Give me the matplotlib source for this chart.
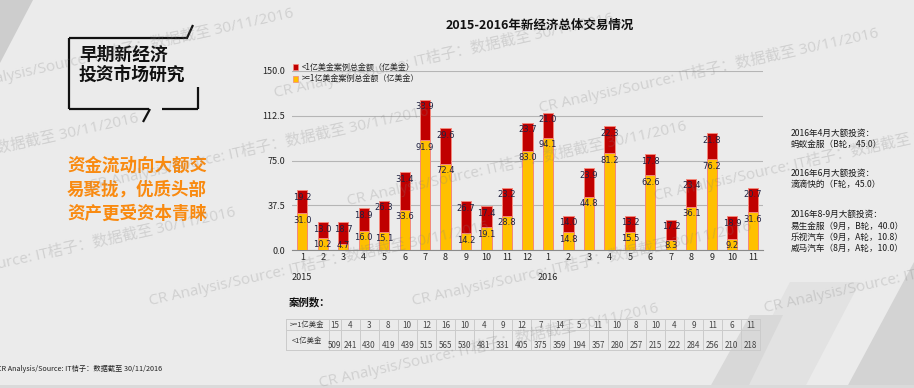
import matplotlib
matplotlib.use('Agg')
import matplotlib.pyplot as plt
from matplotlib.patches import Polygon, Rectangle
import numpy as np

plt.rcParams['font.family'] = ['Noto Sans CJK SC', 'DejaVu Sans']

# ---------------- data ----------------
months = ['1', '2', '3', '4', '5', '6', '7', '8', '9', '10', '11', '12',
          '1', '2', '3', '4', '5', '6', '7', '8', '9', '10', '11']
years = ['2015', '2016']
year_start_idx = [0, 12]
big_amt = [31.0, 10.2, 4.7, 16.0, 15.1, 33.6, 91.9, 72.4, 14.2, 19.1, 28.8, 83.0,
           94.1, 14.8, 44.8, 81.2, 15.5, 62.6, 8.3, 36.1, 76.2, 9.2, 31.6]
small_amt = [19.2, 13.0, 18.7, 18.9, 26.3, 31.4, 33.9, 29.6, 26.7, 17.4, 23.2, 23.7,
             21.0, 14.0, 23.9, 22.3, 13.2, 17.8, 17.2, 23.4, 21.8, 18.9, 20.7]
big_cnt = [15, 4, 3, 8, 10, 12, 16, 10, 4, 9, 12, 7,
           14, 5, 11, 10, 8, 10, 4, 9, 11, 6, 11]
small_cnt = [509, 241, 430, 419, 439, 515, 565, 530, 481, 331, 405, 375,
             359, 194, 357, 280, 257, 215, 222, 284, 256, 210, 218]
legend_labels = ['<1亿美金案例总金额（亿美金）', '>=1亿美金案例总金额（亿美金）']
row_labels = ['>=1亿美金', '<1亿美金']
yticks = [0, 37.5, 75, 112.5, 150]
ytick_labels = ['0.0', '37.5', '75.0', '112.5', '150.0']
title = '2015-2016年新经济总体交易情况'
box_lines = ['早期新经济', '投资市场研究']
orange_lines = ['资金流动向大额交', '易聚拢，优质头部', '资产更受资本青睐']
notes = [('2016年4月大额投资：', 133), ('蚂蚁金服（B轮，45.0）', 144),
         ('2016年6月大额投资：', 173), ('滴滴快的（F轮，45.0）', 184),
         ('2016年8-9月大额投资：', 214), ('易生金服（9月，B轮，40.0）', 226),
         ('乐视汽车（9月，A轮，10.8）', 237), ('威马汽车（8月，A轮，10.0）', 248)]
source = 'CR Analysis/Source: IT桔子：数据截至 30/11/2016'

YELLOW = '#ffc000'
RED = '#c00000'
EDGE = '#f2887c'
BG = '#ebebeb'

W, H = 914, 388
fig = plt.figure(figsize=(W / 100, H / 100), dpi=100)
fig.patch.set_facecolor(BG)

# background decorations (pixel coordinates)
bg = fig.add_axes([0, 0, 1, 1], zorder=0)
bg.set_xlim(0, W); bg.set_ylim(H, 0); bg.axis('off')
bg.add_patch(Polygon([(0, 0), (33, 0), (0, 63)], closed=True, color='#cdcdcd', lw=0))
bg.add_patch(Polygon([(790, 282), (860, 282), (805, 387), (735, 387)], closed=True, color='#e2e2e2', lw=0))
bg.add_patch(Polygon([(750, 315), (783, 315), (748, 387), (710, 387)], closed=True, color='#d8d8d8', lw=0))
bg.add_patch(Polygon([(914, 262), (914, 387), (847, 387)], closed=True, color='#d3d3d3', lw=0))
bg.add_patch(Rectangle((0, 385), W, 3, color='#dadada', lw=0))

# ---------------- main chart ----------------
ax = fig.add_axes([292 / W, 1 - 250 / H, 471 / W, 179 / H], zorder=2)
ax.set_facecolor('none')
x = np.arange(len(months))
ax.bar(x, big_amt, width=0.5, color=YELLOW, edgecolor=EDGE, linewidth=0.7, zorder=3)
ax.bar(x, small_amt, bottom=big_amt, width=0.5, color=RED, edgecolor=EDGE, linewidth=0.7, zorder=3)
tops = np.array(big_amt) + np.array(small_amt)
ymax = 150
px = ymax / 179.0  # data units per pixel
for i in range(len(x)):
    yl = max(big_amt[i] - 7 * px, 4.5 * px)
    ax.text(x[i], yl, f'{big_amt[i]:.1f}', ha='center', va='center',
            fontsize=6, color='#1f2140', zorder=4, family='DejaVu Sans')
    ax.text(x[i], tops[i] - 7 * px, f'{small_amt[i]:.1f}', ha='center', va='center',
            fontsize=6, color='#1f2140', zorder=4, family='DejaVu Sans')
ax.set_xlim(-0.5, len(x) - 0.5)
ax.set_ylim(0, ymax)
ax.set_yticks(yticks, ytick_labels)
ax.set_xticks(x, months)
ax.tick_params(axis='both', length=0, labelsize=6.5, colors='#222222')
ax.tick_params(axis='y', pad=5)
ax.tick_params(axis='x', pad=2.5)
ax.yaxis.grid(True, color='#b5b5b5', lw=0.8)
ax.set_axisbelow(True)
for s in ['top', 'right', 'left']:
    ax.spines[s].set_visible(False)
ax.spines['bottom'].set_color('#8a8a8a')
ax.spines['bottom'].set_linewidth(0.8)
for yl_, idx in zip(years, year_start_idx):
    ax.text(idx, -0.155, yl_, transform=ax.get_xaxis_transform(), ha='center',
            va='center', fontsize=6.5, color='#222222')

# ---------------- overlay (pixel coordinates) ----------------
ov = fig.add_axes([0, 0, 1, 1], zorder=3)
ov.set_xlim(0, W); ov.set_ylim(H, 0); ov.axis('off'); ov.set_facecolor('none')

# legend
for k, (lab, col) in enumerate(zip(legend_labels, [RED, YELLOW])):
    yy = 67 + k * 11.6
    ov.add_patch(Rectangle((293, yy - 3), 5, 6, facecolor=col, edgecolor=EDGE, lw=0.5))
    ov.text(302, yy, lab, fontsize=5.8, va='center', ha='left', color='#222222')

# title
ov.text(540, 25, title, fontsize=9, weight='bold', ha='center', va='center', color='#111111')

# left box
kw = dict(color='#111111', lw=1.6, solid_capstyle='butt')
ov.plot([69, 69], [38, 109], **kw)
ov.plot([69, 188], [38, 38], **kw)
ov.plot([187, 193], [38, 25], **kw)
ov.plot([198, 198], [87, 109], **kw)
ov.plot([69, 149], [109, 109], **kw)
ov.plot([162, 198], [109, 109], **kw)
ov.plot([150, 143], [109, 122], **kw)
ov.text(79, 55, box_lines[0], fontsize=12.8, weight='bold', ha='left', va='center', color='#111111')
ov.text(79, 75, box_lines[1], fontsize=12.8, weight='bold', ha='left', va='center', color='#111111')
for k, line in enumerate(orange_lines):
    ov.text(67, 166 + k * 24, line, fontsize=12.6, weight='bold', ha='left', va='center', color='#f98a10')

# right notes
for txt, yy in notes:
    ov.text(791, yy, txt, fontsize=6.2, ha='left', va='center', color='#1a1a1a')

# table
ov.text(289, 302, '案例数：', fontsize=7.5, weight='bold', ha='left', va='center', color='#111111')
bounds = [286, 329] + [340.5 + 19.08 * i for i in range(len(months))]
right = bounds[-1]
lc = '#cbcbcb'
for yy in [319, 330, 350]:
    ov.plot([286, right], [yy, yy], color=lc, lw=0.7)
for bx in bounds:
    ov.plot([bx, bx], [319, 350], color=lc, lw=0.7)
ov.text(307, 325, row_labels[0], fontsize=5.3, ha='center', va='center', color='#333333')
ov.text(307, 341, row_labels[1], fontsize=5.3, ha='center', va='center', color='#333333')
for i in range(len(months)):
    cx = (bounds[i + 1] + bounds[i + 2]) / 2
    ov.text(cx, 325, str(big_cnt[i]), fontsize=5.8, ha='center', va='center', color='#444444')
    ov.text(cx, 345, str(small_cnt[i]), fontsize=5.8, ha='center', va='center', color='#444444')

# footer
ov.text(-3, 369, source, fontsize=5.2, ha='left', va='center', color='#222222')

# watermarks
wm_pos = [(-45, 92), (275, 97), (540, 112), (-200, 197), (90, 190), (348, 205),
          (655, 200), (-103, 291), (150, 305), (413, 305), (320, 387), (765, 312)]
for (wx, wy) in wm_pos:
    ov.text(wx, wy, source, fontsize=11, rotation=12.5, rotation_mode='anchor',
            ha='left', va='baseline', color='#808080', alpha=0.25,
            family=['Open Sans', 'Noto Sans CJK SC'], clip_on=True)

fig.savefig('out.png', dpi=100, facecolor=fig.get_facecolor())
